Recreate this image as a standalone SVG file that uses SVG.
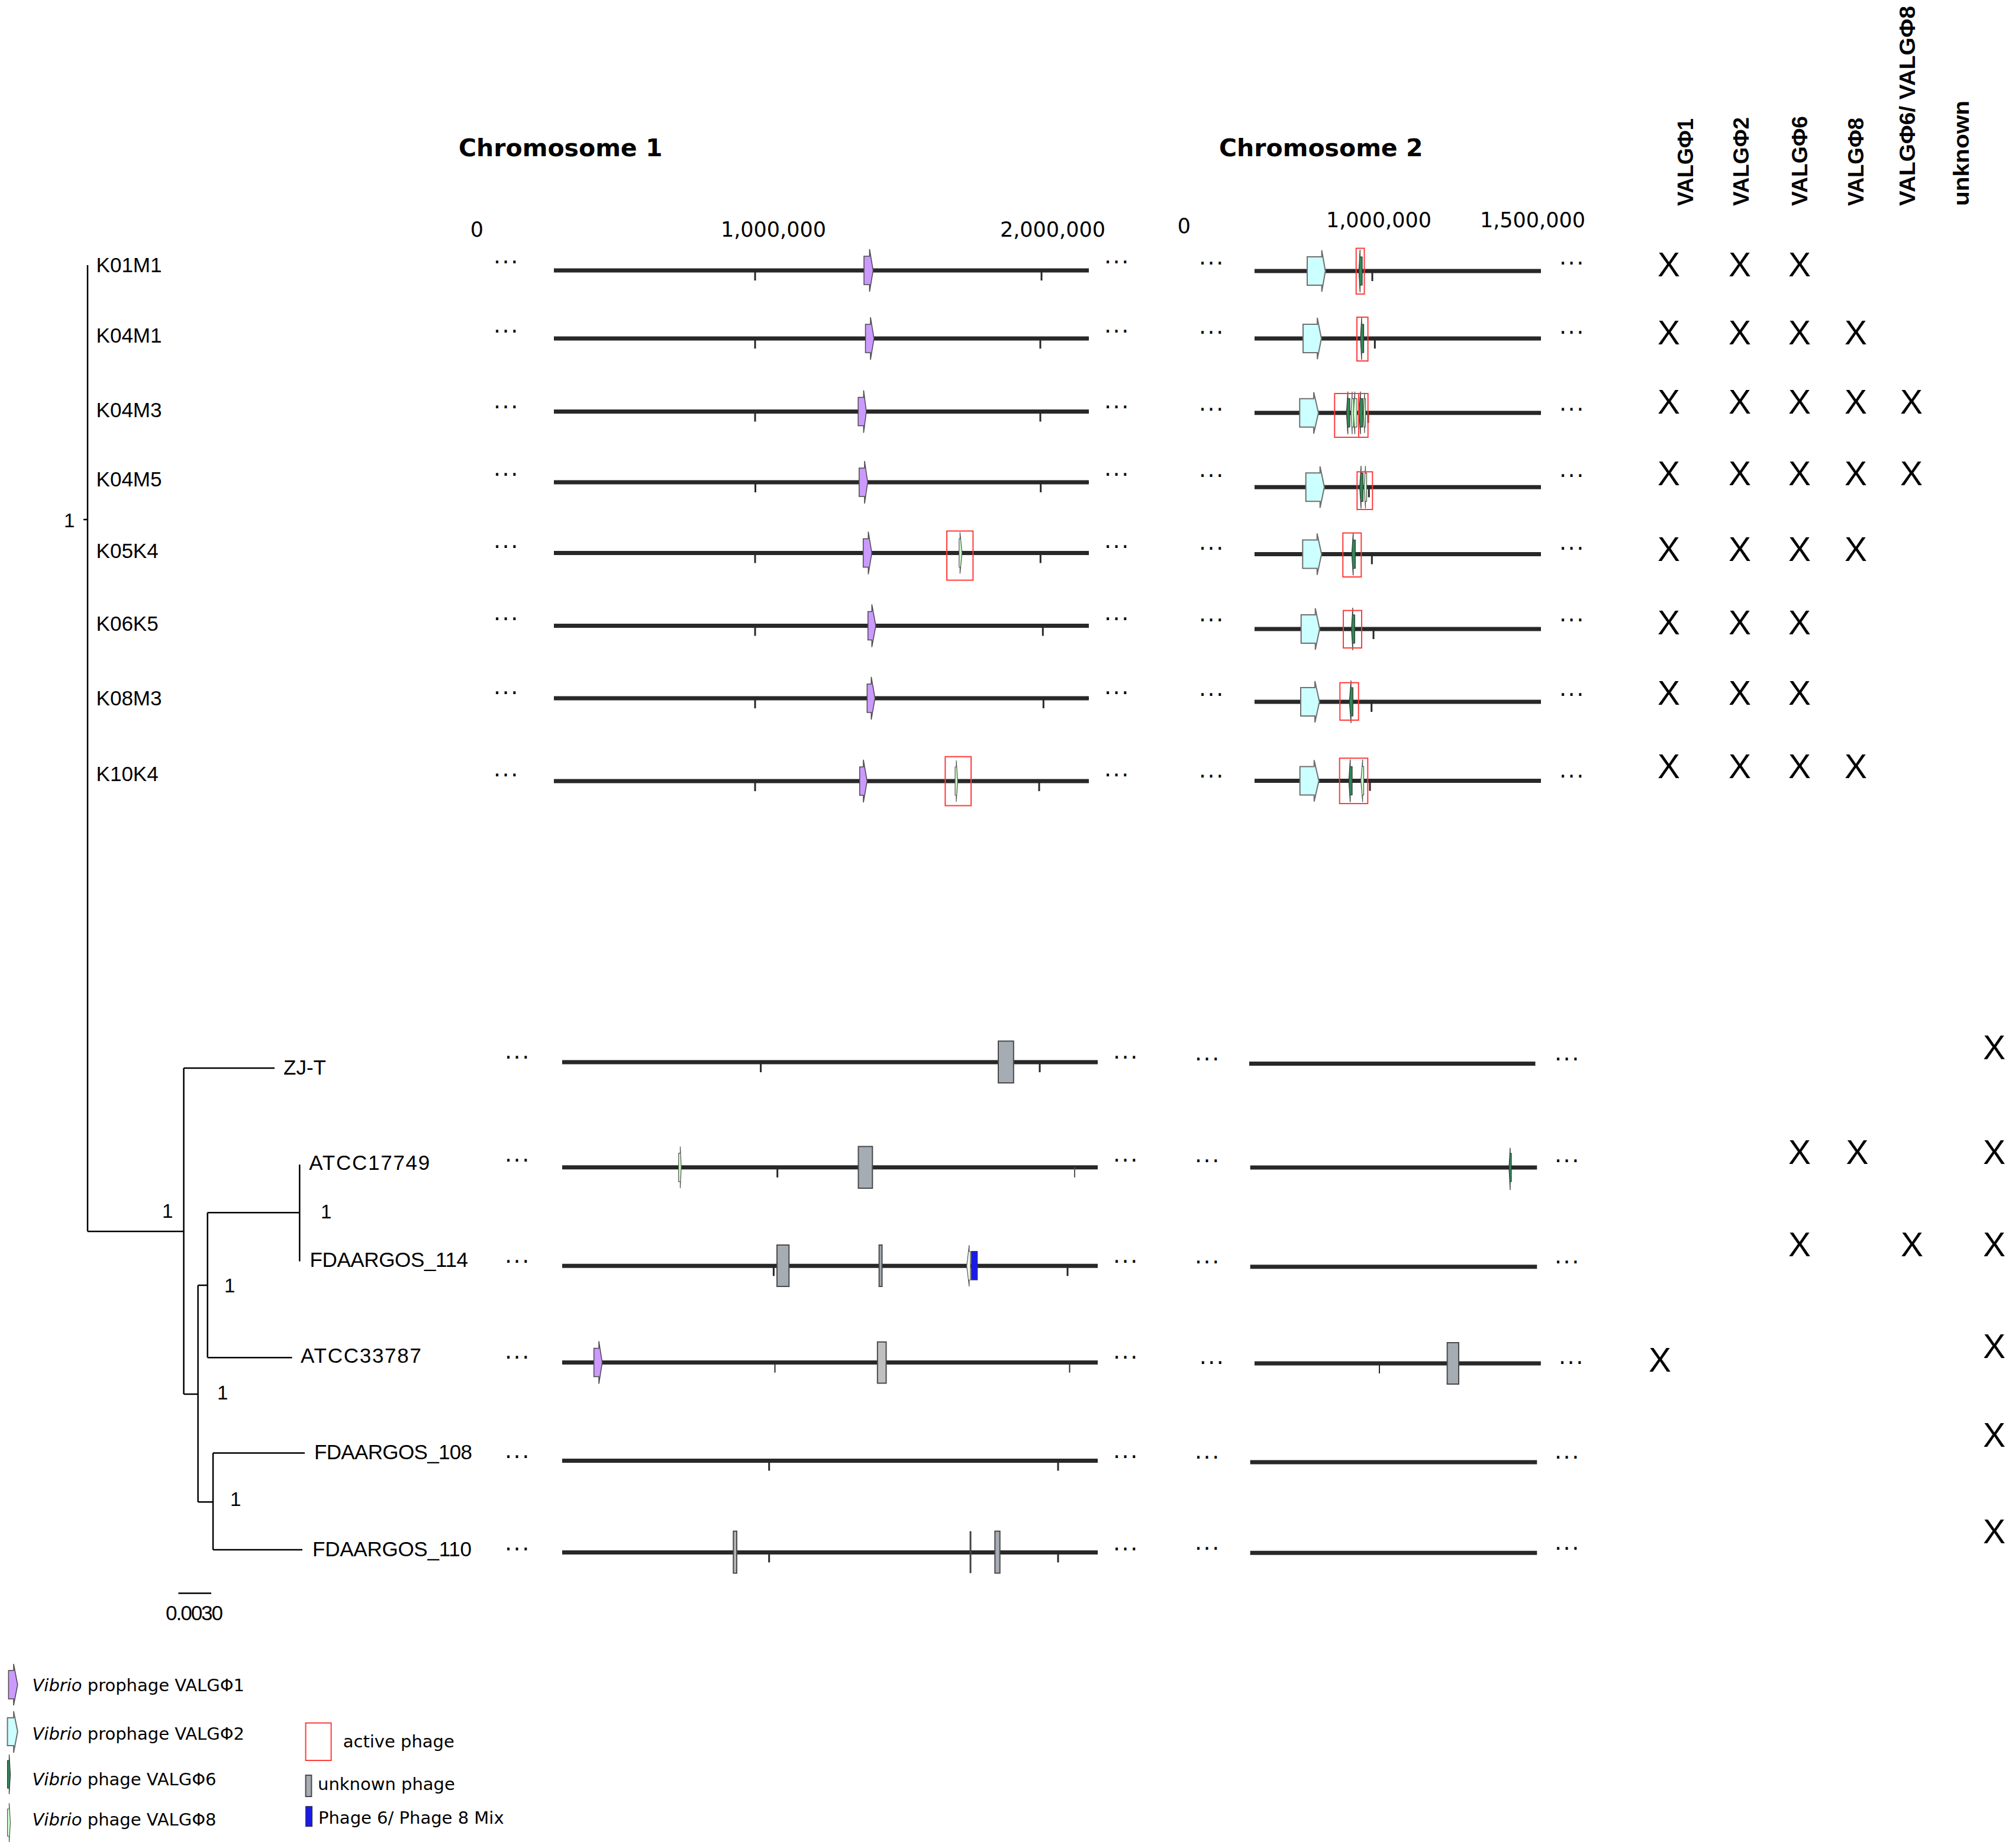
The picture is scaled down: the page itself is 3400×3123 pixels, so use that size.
<svg xmlns="http://www.w3.org/2000/svg" width="3400" height="3123" viewBox="0 0 3400 3123">
<style>
.lbl{font-family:"Liberation Sans",Arial,sans-serif;font-size:35px;fill:#000}
.bs{font-family:"Liberation Sans",Arial,sans-serif;font-size:33px;fill:#000}
.ax{font-family:"DejaVu Sans",sans-serif;font-size:35px;fill:#000;text-anchor:middle}
.ttl{font-family:"DejaVu Sans",sans-serif;font-weight:bold;font-size:41px;fill:#000}
.dots{font-family:"DejaVu Sans",sans-serif;font-size:38px;letter-spacing:2.5px;fill:#000}
.xm{font-family:"Liberation Sans",Arial,sans-serif;font-size:57px;fill:#000;text-anchor:middle}
.hdr{font-family:"Liberation Sans",Arial,sans-serif;font-weight:bold;font-size:37px;fill:#000}
.leg{font-family:"DejaVu Sans",sans-serif;font-size:29px;fill:#000}
.chr{stroke:#282828;stroke-width:7}
.tick{stroke:#282828;stroke-width:3}
.p1{fill:#cc99ff;stroke:#4a4a4a;stroke-width:1.5}
.p2{fill:#ccffff;stroke:#707070;stroke-width:2}
.p6{fill:#2e8b57;stroke:#333;stroke-width:1.2}
.p8{fill:#ccffcc;stroke:#555;stroke-width:1.2}
.unk{fill:#a6acb4;stroke:#4a4a4a;stroke-width:2}
.unkl{fill:#c0c0c0;stroke:#4a4a4a;stroke-width:2}
.mix{fill:#1a1ae6;stroke:#333;stroke-width:1}
.act{fill:none;stroke:#ff3b3b;stroke-width:2}
.tree{stroke:#000;stroke-width:2.5;fill:none}
</style>

<g id="tree-connectors">
<path class="tree" d="M148,448 V2081 M141,878 H148 M148,2081 H310.5 M310.5,1805 V2356 M310.5,1805 H464 M310.5,2356 H334.6 M334.6,2172 V2538.3 M334.6,2172 H350.7 M350.7,2049.3 V2294.2 M350.7,2049.3 H506.3 M506.3,1968 V2131.4 M350.7,2294.2 H493.6 M334.6,2538.3 H360 M360,2455.5 V2619 M360,2455.5 H515 M360,2619 H511"/>
<path class="tree" d="M301.4,2692.6 H357"/>
<text class="bs" x="108" y="891">1</text>
<text class="bs" x="274" y="2058">1</text>
<text class="bs" x="542" y="2059">1</text>
<text class="bs" x="379" y="2184">1</text>
<text class="bs" x="367" y="2365">1</text>
<text class="bs" x="389" y="2545">1</text>
<text class="lbl" x="280" y="2738" font-size="29" textLength="97" lengthAdjust="spacing">0.0030</text>
</g>

<g id="header">
<text class="ttl" x="775" y="264">Chromosome 1</text>
<text class="ttl" x="2060" y="264">Chromosome 2</text>
<text class="ax" x="806" y="400">0</text>
<text class="ax" x="1307" y="400">1,000,000</text>
<text class="ax" x="1779" y="400">2,000,000</text>
<text class="ax" x="2001" y="394">0</text>
<text class="ax" x="2330" y="384">1,000,000</text>
<text class="ax" x="2590" y="384">1,500,000</text>
<text class="hdr" transform="translate(2860.7,348) rotate(-90)" textLength="148" lengthAdjust="spacingAndGlyphs">VALGΦ1</text>
<text class="hdr" transform="translate(2955.3,348) rotate(-90)" textLength="150" lengthAdjust="spacingAndGlyphs">VALGΦ2</text>
<text class="hdr" transform="translate(3053.5,348) rotate(-90)" textLength="152" lengthAdjust="spacingAndGlyphs">VALGΦ6</text>
<text class="hdr" transform="translate(3148.6,348) rotate(-90)" textLength="149" lengthAdjust="spacingAndGlyphs">VALGΦ8</text>
<text class="hdr" transform="translate(3235.7,348) rotate(-90)" textLength="338" lengthAdjust="spacingAndGlyphs">VALGΦ6/ VALGΦ8</text>
<text class="hdr" transform="translate(3327,348) rotate(-90)" textLength="178" lengthAdjust="spacingAndGlyphs">unknown</text>
</g>

<!-- Row 1 -->
<g id="row-K01M1">
<text class="lbl" x="162.6" y="460">K01M1</text>
<text class="dots" x="834" y="445">...</text><text class="dots" x="1866" y="445">...</text>
<line class="chr" x1="936" y1="457" x2="1840" y2="457"/>
<line class="tick" x1="1276" y1="457" x2="1276" y2="474"/><line class="tick" x1="1760" y1="457" x2="1760" y2="474"/>
<polygon class="p1" points="1460,433 1469.4,433 1469.4,421 1475.5,457 1469.4,493 1469.4,481 1460,481"/>
<text class="dots" x="2026" y="447">...</text><text class="dots" x="2635" y="447">...</text>
<line class="chr" x1="2120" y1="458" x2="2604" y2="458"/>
<line class="tick" x1="2319" y1="458" x2="2319" y2="475"/>
<polygon class="p2" points="2209,434 2233.6,434 2233.6,423 2239.7,458 2233.6,493 2233.6,482 2209,482"/>
<polygon class="p6" points="2296.3,458 2298.3,422 2298.3,434 2302,434 2302,482 2298.3,482 2298.3,494"/>
<rect class="act" x="2291.7" y="419.6" width="13.8" height="77.3"/>
<text class="xm" x="2820" y="467">X</text><text class="xm" x="2940" y="467">X</text><text class="xm" x="3041" y="467">X</text>
</g>

<!-- Row 2 -->
<g id="row-K04M1">
<text class="lbl" x="162.6" y="578.6">K04M1</text>
<text class="dots" x="834" y="562">...</text><text class="dots" x="1866" y="562">...</text>
<line class="chr" x1="936" y1="572" x2="1840" y2="572"/>
<line class="tick" x1="1276" y1="572" x2="1276" y2="589"/><line class="tick" x1="1758" y1="572" x2="1758" y2="589"/>
<polygon class="p1" points="1462.5,548 1471,548 1471,536 1477,572 1471,608 1471,596 1462.5,596"/>
<text class="dots" x="2026" y="564">...</text><text class="dots" x="2635" y="564">...</text>
<line class="chr" x1="2120" y1="572" x2="2604" y2="572"/>
<line class="tick" x1="2323.3" y1="572" x2="2323.3" y2="589"/>
<polygon class="p2" points="2202,548 2226,548 2226,537 2233,572 2226,607 2226,596 2202,596"/>
<polygon class="p6" points="2299,572 2301,536 2301,548 2304.5,548 2304.5,596 2301,596 2301,608"/>
<rect class="act" x="2293" y="536" width="18.6" height="74"/>
<text class="xm" x="2820" y="582">X</text><text class="xm" x="2940" y="582">X</text><text class="xm" x="3041" y="582">X</text><text class="xm" x="3136" y="582">X</text>
</g>

<!-- Row 3 -->
<g id="row-K04M3">
<text class="lbl" x="162.6" y="704.5">K04M3</text>
<text class="dots" x="834" y="689.5">...</text><text class="dots" x="1866" y="689.5">...</text>
<line class="chr" x1="936" y1="695.5" x2="1840" y2="695.5"/>
<line class="tick" x1="1276" y1="695.5" x2="1276" y2="712.5"/><line class="tick" x1="1758" y1="695.5" x2="1758" y2="712.5"/>
<polygon class="p1" points="1450.2,671.5 1459.4,671.5 1459.4,659.5 1464,695.5 1459.4,731.5 1459.4,719.5 1450.2,719.5"/>
<text class="dots" x="2026" y="693.5">...</text><text class="dots" x="2635" y="693.5">...</text>
<line class="chr" x1="2120" y1="697.7" x2="2604" y2="697.7"/>
<line class="tick" x1="2312" y1="697.7" x2="2312" y2="714.7"/>
<polygon class="p2" points="2196.3,673.7 2220,673.7 2220,662.7 2228,697.7 2220,732.7 2220,721.7 2196.3,721.7"/>
<polygon class="p6" points="2275.3,697.7 2277.7,661.7 2277.7,673.7 2281,673.7 2281,721.7 2277.7,721.7 2277.7,733.7"/>
<polygon class="p8" points="2283,697.7 2285,661.7 2285,673.7 2287.5,673.7 2287.5,721.7 2285,721.7 2285,733.7"/>
<polygon class="p8" points="2287,697.7 2289.5,661.7 2289.5,673.7 2293,673.7 2293,721.7 2289.5,721.7 2289.5,733.7"/>
<polygon class="p6" points="2296.7,697.7 2299,661.7 2299,673.7 2303,673.7 2303,721.7 2299,721.7 2299,733.7"/>
<polygon class="p8" points="2304,697.7 2306,663.7 2306,673.7 2307.5,673.7 2307.5,721.7 2306,721.7 2306,731.7"/>
<rect class="act" x="2255.3" y="665" width="40.7" height="74"/>
<rect class="act" x="2296" y="665" width="15.7" height="74"/>
<text class="xm" x="2820" y="699">X</text><text class="xm" x="2940" y="699">X</text><text class="xm" x="3041" y="699">X</text><text class="xm" x="3136" y="699">X</text><text class="xm" x="3230" y="699">X</text>
</g>

<!-- Row 4 -->
<g id="row-K04M5">
<text class="lbl" x="162.6" y="821.5">K04M5</text>
<text class="dots" x="834" y="804">...</text><text class="dots" x="1866" y="804">...</text>
<line class="chr" x1="936" y1="815" x2="1840" y2="815"/>
<line class="tick" x1="1276.5" y1="815" x2="1276.5" y2="832"/><line class="tick" x1="1758.7" y1="815" x2="1758.7" y2="832"/>
<polygon class="p1" points="1451.8,791 1461,791 1461,779 1466.3,815 1461,851 1461,839 1451.8,839"/>
<text class="dots" x="2026" y="806">...</text><text class="dots" x="2635" y="806">...</text>
<line class="chr" x1="2120" y1="823.3" x2="2604" y2="823.3"/>
<line class="tick" x1="2313.3" y1="823.3" x2="2313.3" y2="840.3"/>
<polygon class="p2" points="2206.7,799.3 2230.7,799.3 2230.7,788.3 2238,823.3 2230.7,858.3 2230.7,847.3 2206.7,847.3"/>
<polygon class="p6" points="2297.7,823.3 2300,787.3 2300,799.3 2303.3,799.3 2303.3,847.3 2300,847.3 2300,859.3"/>
<polygon class="p8" points="2305,823.3 2307.5,787.3 2307.5,799.3 2309.5,799.3 2309.5,847.3 2307.5,847.3 2307.5,859.3"/>
<rect class="act" x="2293.3" y="797.3" width="26" height="63.7"/>
<text class="xm" x="2820" y="820.4">X</text><text class="xm" x="2940" y="820.4">X</text><text class="xm" x="3041" y="820.4">X</text><text class="xm" x="3136" y="820.4">X</text><text class="xm" x="3230" y="820.4">X</text>
</g>

<!-- Row 5 -->
<g id="row-K05K4">
<text class="lbl" x="162.6" y="942.6">K05K4</text>
<text class="dots" x="834" y="926">...</text><text class="dots" x="1866" y="926">...</text>
<line class="chr" x1="936" y1="934.5" x2="1840" y2="934.5"/>
<line class="tick" x1="1276" y1="934.5" x2="1276" y2="951.5"/><line class="tick" x1="1758.3" y1="934.5" x2="1758.3" y2="951.5"/>
<polygon class="p1" points="1458.7,910.5 1467.3,910.5 1467.3,898.5 1473.3,934.5 1467.3,970.5 1467.3,958.5 1458.7,958.5"/>
<polygon class="p8" points="1620.7,910.5 1622.3,910.5 1622.3,899.5 1625.7,934.5 1622.3,969.5 1622.3,958.5 1620.7,958.5"/>
<rect class="act" x="1600" y="897.4" width="44.3" height="83.1"/>
<text class="dots" x="2026" y="929">...</text><text class="dots" x="2635" y="929">...</text>
<line class="chr" x1="2120" y1="936.5" x2="2604" y2="936.5"/>
<line class="tick" x1="2318.3" y1="936.5" x2="2318.3" y2="953.5"/>
<polygon class="p2" points="2201.3,912.5 2225.7,912.5 2225.7,901.5 2233.3,936.5 2225.7,971.5 2225.7,960.5 2201.3,960.5"/>
<polygon class="p6" points="2284.3,936.5 2286.7,900.5 2286.7,912.5 2290.3,912.5 2290.3,960.5 2286.7,960.5 2286.7,972.5"/>
<rect class="act" x="2269.3" y="900.7" width="31" height="74.3"/>
<text class="xm" x="2820" y="948.4">X</text><text class="xm" x="2940" y="948.4">X</text><text class="xm" x="3041" y="948.4">X</text><text class="xm" x="3136" y="948.4">X</text>
</g>

<!-- Row 6 -->
<g id="row-K06K5">
<text class="lbl" x="162.6" y="1066">K06K5</text>
<text class="dots" x="834" y="1047.5">...</text><text class="dots" x="1866" y="1047.5">...</text>
<line class="chr" x1="936" y1="1057.5" x2="1840" y2="1057.5"/>
<line class="tick" x1="1276" y1="1057.5" x2="1276" y2="1074.5"/><line class="tick" x1="1762.3" y1="1057.5" x2="1762.3" y2="1074.5"/>
<polygon class="p1" points="1466.7,1033.5 1473.3,1033.5 1473.3,1021.5 1480,1057.5 1473.3,1093.5 1473.3,1081.5 1466.7,1081.5"/>
<text class="dots" x="2026" y="1050">...</text><text class="dots" x="2635" y="1050">...</text>
<line class="chr" x1="2120" y1="1063" x2="2604" y2="1063"/>
<line class="tick" x1="2321" y1="1063" x2="2321" y2="1080"/>
<polygon class="p2" points="2198.7,1039 2222.7,1039 2222.7,1028 2230,1063 2222.7,1098 2222.7,1087 2198.7,1087"/>
<polygon class="p6" points="2283.7,1063 2286,1027 2286,1039 2289.3,1039 2289.3,1087 2286,1087 2286,1099"/>
<rect class="act" x="2270" y="1031.7" width="31" height="63.3"/>
<text class="xm" x="2820" y="1071.9">X</text><text class="xm" x="2940" y="1071.9">X</text><text class="xm" x="3041" y="1071.9">X</text>
</g>

<!-- Row 7 -->
<g id="row-K08M3">
<text class="lbl" x="162.6" y="1192">K08M3</text>
<text class="dots" x="834" y="1173">...</text><text class="dots" x="1866" y="1173">...</text>
<line class="chr" x1="936" y1="1180" x2="1840" y2="1180"/>
<line class="tick" x1="1276" y1="1180" x2="1276" y2="1197"/><line class="tick" x1="1763.3" y1="1180" x2="1763.3" y2="1197"/>
<polygon class="p1" points="1465.3,1156 1472.3,1156 1472.3,1144 1478.7,1180 1472.3,1216 1472.3,1204 1465.3,1204"/>
<text class="dots" x="2026" y="1175.5">...</text><text class="dots" x="2635" y="1175.5">...</text>
<line class="chr" x1="2120" y1="1186" x2="2604" y2="1186"/>
<line class="tick" x1="2317.7" y1="1186" x2="2317.7" y2="1203"/>
<polygon class="p2" points="2198,1162 2222,1162 2222,1151 2229.7,1186 2222,1221 2222,1210 2198,1210"/>
<polygon class="p6" points="2280.3,1186 2283,1150 2283,1162 2286.3,1162 2286.3,1210 2283,1210 2283,1222"/>
<rect class="act" x="2264.3" y="1153.7" width="31.4" height="63.3"/>
<text class="xm" x="2820" y="1191.1">X</text><text class="xm" x="2940" y="1191.1">X</text><text class="xm" x="3041" y="1191.1">X</text>
</g>

<!-- Row 8 -->
<g id="row-K10K4">
<text class="lbl" x="162.6" y="1320">K10K4</text>
<text class="dots" x="834" y="1312">...</text><text class="dots" x="1866" y="1312">...</text>
<line class="chr" x1="936" y1="1320" x2="1840" y2="1320"/>
<line class="tick" x1="1276" y1="1320" x2="1276" y2="1337"/><line class="tick" x1="1756" y1="1320" x2="1756" y2="1337"/>
<polygon class="p1" points="1452.7,1296 1459,1296 1459,1284 1465.3,1320 1459,1356 1459,1344 1452.7,1344"/>
<polygon class="p8" points="1614,1296 1616,1296 1616,1285 1618.3,1320 1616,1355 1616,1344 1614,1344"/>
<rect class="act" x="1597.3" y="1278.7" width="43.7" height="82.8"/>
<text class="dots" x="2026" y="1314">...</text><text class="dots" x="2635" y="1314">...</text>
<line class="chr" x1="2120" y1="1319.5" x2="2604" y2="1319.5"/>
<line class="tick" x1="2315" y1="1319.5" x2="2315" y2="1336.5"/>
<polygon class="p2" points="2196.7,1295.5 2220.7,1295.5 2220.7,1284.5 2228.7,1319.5 2220.7,1354.5 2220.7,1343.5 2196.7,1343.5"/>
<polygon class="p6" points="2279.3,1319.5 2281.7,1283.5 2281.7,1295.5 2285,1295.5 2285,1343.5 2281.7,1343.5 2281.7,1355.5"/>
<polygon class="p8" points="2299.7,1319.5 2302.7,1283.5 2302.7,1295.5 2304.5,1295.5 2304.5,1343.5 2302.7,1343.5 2302.7,1355.5"/>
<rect class="act" x="2263.7" y="1281.3" width="47.6" height="76.7"/>
<text class="xm" x="2820" y="1314.7">X</text><text class="xm" x="2940" y="1314.7">X</text><text class="xm" x="3041" y="1314.7">X</text><text class="xm" x="3136" y="1314.7">X</text>
</g>

<!-- Row 9 -->
<g id="row-ZJ-T">
<text class="lbl" x="479" y="1815.7" textLength="72" lengthAdjust="spacing">ZJ-T</text>
<text class="dots" x="853" y="1788.5">...</text><text class="dots" x="1881" y="1788.5">...</text>
<line class="chr" x1="950" y1="1795" x2="1855" y2="1795"/>
<line class="tick" x1="1285.6" y1="1795" x2="1285.6" y2="1812"/><line class="tick" x1="1757" y1="1795" x2="1757" y2="1812"/>
<rect class="unk" x="1687" y="1759.4" width="25.8" height="70.6"/>
<text class="dots" x="2019" y="1791.5">...</text><text class="dots" x="2627" y="1791.5">...</text>
<line class="chr" x1="2111" y1="1797.6" x2="2594.5" y2="1797.6"/>
<text class="xm" x="3370" y="1790.4">X</text>
</g>

<!-- Row 10 -->
<g id="row-ATCC17749">
<text class="lbl" x="522.3" y="1977" textLength="204" lengthAdjust="spacing">ATCC17749</text>
<text class="dots" x="853" y="1962.5">...</text><text class="dots" x="1881" y="1962.5">...</text>
<line class="chr" x1="950" y1="1972.8" x2="1855" y2="1972.8"/>
<line class="tick" x1="1313.7" y1="1972.8" x2="1313.7" y2="1989.8"/><line class="tick" x1="1816" y1="1972.8" x2="1816" y2="1989.8" style="stroke-width:2;stroke:#555"/>
<polygon class="p8" points="1146.7,1948.8 1149.5,1948.8 1149.5,1937.5 1151.2,1972.8 1149.5,2008 1149.5,1996.8 1146.7,1996.8"/>
<rect class="unk" x="1450.5" y="1937.5" width="23.8" height="70.5"/>
<text class="dots" x="2019" y="1964">...</text><text class="dots" x="2627" y="1964">...</text>
<line class="chr" x1="2112.7" y1="1973" x2="2597.3" y2="1973"/>
<polygon class="p6" points="2550,1973 2552,1939.8 2552,1949 2554,1949 2554,1997 2552,1997 2552,2011"/>
<text class="xm" x="3041" y="1967.4">X</text><text class="xm" x="3138.5" y="1967.4">X</text><text class="xm" x="3370" y="1967.4">X</text>
</g>

<!-- Row 11 -->
<g id="row-FDAARGOS_114">
<text class="lbl" x="523.5" y="2140.5" textLength="267.5" lengthAdjust="spacing">FDAARGOS_114</text>
<text class="dots" x="853" y="2133.5">...</text><text class="dots" x="1881" y="2133.5">...</text>
<line class="chr" x1="950" y1="2139.3" x2="1855" y2="2139.3"/>
<line class="tick" x1="1307.4" y1="2139.3" x2="1307.4" y2="2156.3"/><line class="tick" x1="1804" y1="2139.3" x2="1804" y2="2156.3"/>
<rect class="unk" x="1313" y="2104" width="20.3" height="70"/>
<rect class="unk" x="1485.6" y="2104" width="4.9" height="70"/>
<polygon class="p8" style="fill:#eefaee" points="1633.6,2139.3 1637.8,2104 1637.8,2115 1640,2115 1640,2163 1637.8,2163 1637.8,2174"/>
<rect class="mix" x="1641.3" y="2114.7" width="10.5" height="48.3"/>
<text class="dots" x="2019" y="2135">...</text><text class="dots" x="2627" y="2135">...</text>
<line class="chr" x1="2112.7" y1="2140.7" x2="2597.3" y2="2140.7"/>
<text class="xm" x="3041" y="2123.4">X</text><text class="xm" x="3231" y="2123.4">X</text><text class="xm" x="3370" y="2123.4">X</text>
</g>

<!-- Row 12 -->
<g id="row-ATCC33787">
<text class="lbl" x="508" y="2303.3" textLength="204" lengthAdjust="spacing">ATCC33787</text>
<text class="dots" x="853" y="2296">...</text><text class="dots" x="1881" y="2296">...</text>
<line class="chr" x1="950" y1="2302.6" x2="1855" y2="2302.6"/>
<line class="tick" x1="1309.5" y1="2302.6" x2="1309.5" y2="2319.6" style="stroke-width:2"/><line class="tick" x1="1807.5" y1="2302.6" x2="1807.5" y2="2319.6" style="stroke-width:2"/>
<polygon class="p1" points="1003.6,2278.6 1012,2278.6 1012,2266.6 1017.7,2302.6 1012,2338.6 1012,2326.6 1003.6,2326.6"/>
<rect class="unkl" x="1482.8" y="2267.8" width="14.7" height="69.7"/>
<text class="dots" x="2026.7" y="2305">...</text><text class="dots" x="2634" y="2305">...</text>
<line class="chr" x1="2120" y1="2304" x2="2603.8" y2="2304"/>
<line class="tick" x1="2331" y1="2304" x2="2331" y2="2321" style="stroke-width:2"/>
<rect class="unk" x="2445.6" y="2269" width="19.4" height="70"/>
<text class="xm" x="2805" y="2318.4">X</text><text class="xm" x="3370" y="2295.4">X</text>
</g>

<!-- Row 13 -->
<g id="row-FDAARGOS_108">
<text class="lbl" x="531" y="2466" textLength="267" lengthAdjust="spacing">FDAARGOS_108</text>
<text class="dots" x="853" y="2464">...</text><text class="dots" x="1881" y="2464">...</text>
<line class="chr" x1="950" y1="2468.4" x2="1855" y2="2468.4"/>
<line class="tick" x1="1299.7" y1="2468.4" x2="1299.7" y2="2485.4"/><line class="tick" x1="1788" y1="2468.4" x2="1788" y2="2485.4"/>
<text class="dots" x="2019" y="2464.5">...</text><text class="dots" x="2627" y="2464.5">...</text>
<line class="chr" x1="2112.7" y1="2471" x2="2597.3" y2="2471"/>
<text class="xm" x="3370" y="2445.4">X</text>
</g>

<!-- Row 14 -->
<g id="row-FDAARGOS_110">
<text class="lbl" x="528" y="2629.5" textLength="269" lengthAdjust="spacing">FDAARGOS_110</text>
<text class="dots" x="853" y="2620">...</text><text class="dots" x="1881" y="2620">...</text>
<line class="chr" x1="950" y1="2623.4" x2="1855" y2="2623.4"/>
<line class="tick" x1="1299.7" y1="2623.4" x2="1299.7" y2="2640.4"/><line class="tick" x1="1788" y1="2623.4" x2="1788" y2="2640.4"/>
<rect class="unk" style="fill:#b5b5b5" x="1239.3" y="2587.6" width="5.7" height="70.9"/>
<line x1="1640" y1="2587.6" x2="1640" y2="2658.5" stroke="#444" stroke-width="3"/>
<rect class="unk" x="1681.3" y="2587.6" width="8.4" height="70.9"/>
<text class="dots" x="2019" y="2619">...</text><text class="dots" x="2627" y="2619">...</text>
<line class="chr" x1="2112.7" y1="2624.2" x2="2597.3" y2="2624.2"/>
<text class="xm" x="3370" y="2608.4">X</text>
</g>

<g id="legend">
<polygon class="p1" points="14.4,2823 23,2823 23,2812 29.8,2847 23,2882 23,2871 14.4,2871"/>
<text class="leg" x="54.5" y="2858"><tspan font-style="italic">Vibrio</tspan> prophage VALGΦ1</text>
<polygon class="p2" points="12.6,2903 23,2903 23,2892 29.8,2926 23,2962 23,2950 12.6,2950"/>
<text class="leg" x="54.5" y="2940"><tspan font-style="italic">Vibrio</tspan> prophage VALGΦ2</text>
<polygon class="p6" points="12.6,2975 15.5,2975 15.5,2965 17.5,2999 15.5,3032 15.5,3022 12.6,3022"/>
<text class="leg" x="54.5" y="3017"><tspan font-style="italic">Vibrio</tspan> phage VALGΦ6</text>
<polygon class="p8" points="12.6,3057 15.5,3057 15.5,3047 17.5,3080 15.5,3113 15.5,3103 12.6,3103"/>
<text class="leg" x="54.5" y="3085"><tspan font-style="italic">Vibrio</tspan> phage VALGΦ8</text>
<rect class="act" x="516.6" y="2911.7" width="43" height="63.3"/>
<text class="leg" x="579.7" y="2953">active phage</text>
<rect class="unk" x="516.6" y="3000" width="9.8" height="36"/>
<text class="leg" x="537" y="3025">unknown phage</text>
<rect class="mix" x="516.6" y="3052.7" width="11" height="34"/>
<text class="leg" x="538" y="3081.7">Phage 6/ Phage 8 Mix</text>
</g>
</svg>
